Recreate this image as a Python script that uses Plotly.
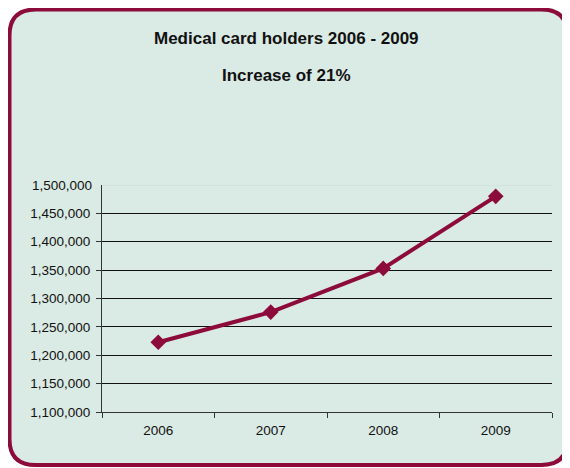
import plotly.graph_objects as go

years = ["2006", "2007", "2008", "2009"]
holders = [1223000, 1276000, 1353000, 1480000]
y_ticks = [1100000, 1150000, 1200000, 1250000, 1300000, 1350000, 1400000, 1450000, 1500000]

# page body adds an 8px margin, so the figure is 8px smaller each way
W, H = 562, 460
L, R, T, B = 94, 18, 177, 56
pw, ph = W - L - R, H - T - B

wine = "#8C0B3A"
bg = "#DAEAE4"
tick_font = dict(family="Liberation Sans, Arial", size=13.5, color="#111111")


def px(x):
    return (x - L) / pw


def py(y):
    return (H - B - y) / ph


# rounded frame in pixel terms -> paper coords
x0, x1, y0, y1, r = 1.5, 559.5, 1.5, 457, 26
path = (
    f"M {px(x0 + r)},{py(y0)} L {px(x1 - r)},{py(y0)} "
    f"Q {px(x1)},{py(y0)} {px(x1)},{py(y0 + r)} "
    f"L {px(x1)},{py(y1 - r)} Q {px(x1)},{py(y1)} {px(x1 - r)},{py(y1)} "
    f"L {px(x0 + r)},{py(y1)} Q {px(x0)},{py(y1)} {px(x0)},{py(y1 - r)} "
    f"L {px(x0)},{py(y0 + r)} Q {px(x0)},{py(y0)} {px(x0 + r)},{py(y0)} Z"
)

fig = go.Figure()
fig.add_trace(go.Scatter(
    x=years, y=holders, mode="lines+markers",
    line=dict(color=wine, width=4),
    marker=dict(symbol="diamond", size=12, color=wine),
    cliponaxis=False,
))

fig.add_shape(type="path", path=path, xref="paper", yref="paper",
              fillcolor=bg, line=dict(color=wine, width=4), layer="below")
fig.add_hline(y=y_ticks[-1], line=dict(color="#C8DCD6", width=1), layer="below")

title_font = dict(family="Liberation Sans, Arial", size=17, color="#111111")
fig.add_annotation(text="<b>Medical card holders 2006 - 2009</b>", xref="paper", yref="paper",
                   x=px(278), y=py(30), yanchor="middle", showarrow=False, font=title_font)
fig.add_annotation(text="<b>Increase of 21%</b>", xref="paper", yref="paper",
                   x=px(278), y=py(67), yanchor="middle", showarrow=False, font=title_font)

fig.update_xaxes(
    type="category", tickson="boundaries", ticks="outside", ticklen=5,
    tickcolor="#333333", showline=True, linecolor="#333333", linewidth=1,
    showgrid=False, tickfont=tick_font, ticklabelstandoff=6,
    range=[-0.5, 3.5],
)
fig.update_yaxes(
    range=[y_ticks[0], y_ticks[-1]], tickvals=y_ticks[:-1], tickformat=",d",
    ticks="outside", ticklen=5, tickcolor="#333333",
    showline=True, linecolor="#333333", linewidth=1,
    showgrid=True, gridcolor="#111111", gridwidth=1, zeroline=False,
    tickfont=tick_font, ticklabelstandoff=3,
)
fig.add_annotation(text="1,500,000", xref="paper", yref="y", x=0, y=y_ticks[-1],
                   xanchor="right", xshift=-8, showarrow=False, font=tick_font)

fig.update_layout(
    width=W, height=H, margin=dict(l=L, r=R, t=T, b=B),
    paper_bgcolor="white", plot_bgcolor="rgba(0,0,0,0)",
    showlegend=False,
)

fig.write_html("out.html")
